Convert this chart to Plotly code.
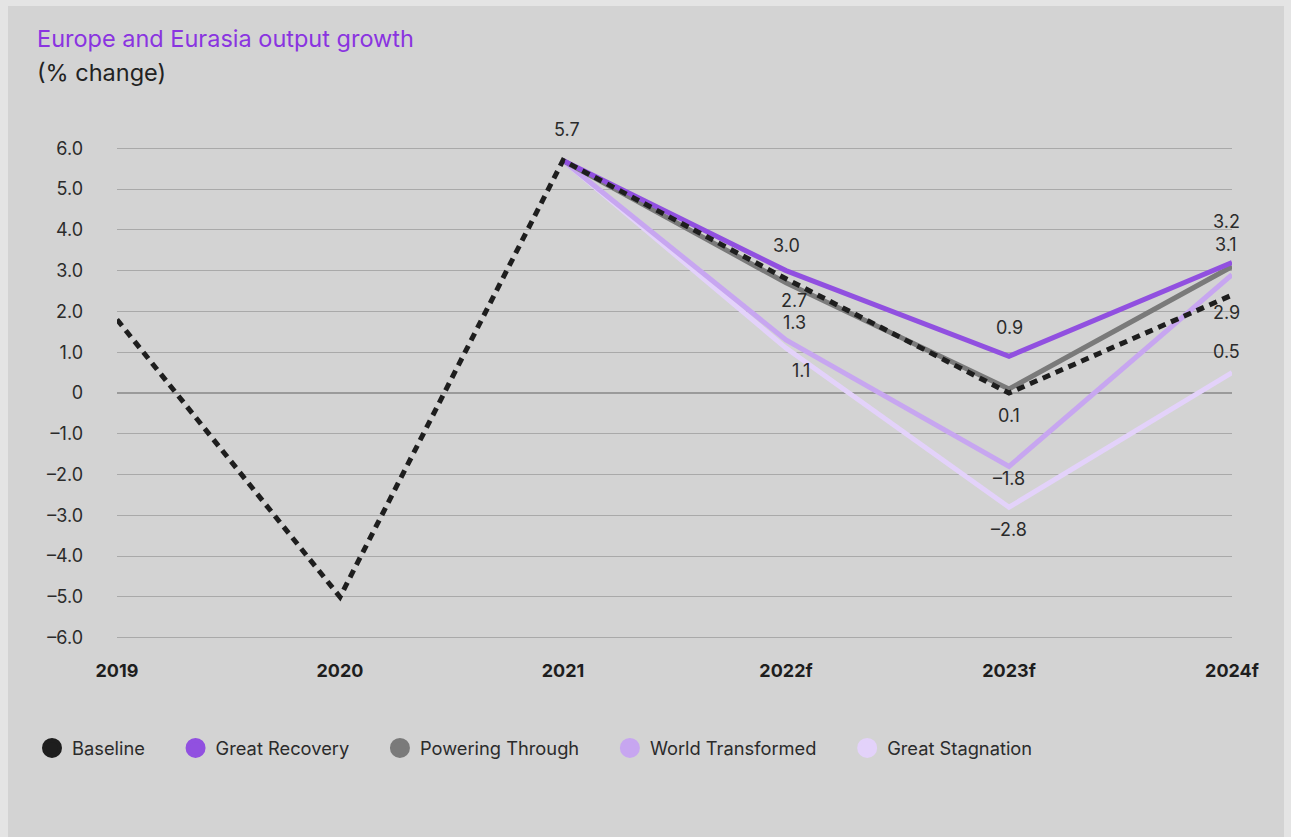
import plotly.graph_objects as go

years = ["2019", "2020", "2021", "2022f", "2023f", "2024f"]
baseline = [1.8, -5.0, 5.7, 2.8, 0.0, 2.4]
great_recovery = [None, None, 5.7, 3.0, 0.9, 3.2]
powering_through = [None, None, 5.7, 2.7, 0.1, 3.1]
world_transformed = [None, None, 5.7, 1.3, -1.8, 2.9]
great_stagnation = [None, None, 5.7, 1.1, -2.8, 0.5]

y_tickvals = [6, 5, 4, 3, 2, 1, 0, -1, -2, -3, -4, -5, -6]
y_ticktext = ["6.0", "5.0", "4.0", "3.0", "2.0", "1.0", "0",
              "\u20131.0", "\u20132.0", "\u20133.0", "\u20134.0", "\u20135.0", "\u20136.0"]

# data labels: (category, value, text)
label_x = ["2021", "2022f", "2022f", "2022f", "2022f", "2023f", "2023f", "2023f", "2023f",
           "2024f", "2024f", "2024f", "2024f"]
label_y = [5.7, 3.0, 2.7, 1.3, 1.1, 0.9, 0.1, -1.8, -2.8, 3.2, 3.1, 2.9, 0.5]
label_text = ["5.7", "3.0", "2.7", "1.3", "1.1", "0.9", "0.1", "\u20131.8", "\u20132.8",
              "3.2", "3.1", "2.9", "0.5"]
label_dy = [31, 25, -18, 17, -22, 29, -27, -12, -22, 41, 22, -38, 21]
label_dx = [4, 0, 8, 8, 15, 0, 0, 0, 0, -6, -6, -6, -6]

BLACK = "#1e1e1e"
PURPLE = "#9150e0"
GRAY = "#7a7a7a"
LAV = "#c7a6f0"
LAV_LIGHT = "#e3d2fa"

series = [
    ("Great Stagnation", great_stagnation, LAV_LIGHT),
    ("World Transformed", world_transformed, LAV),
    ("Powering Through", powering_through, GRAY),
    ("Great Recovery", great_recovery, PURPLE),
]

L, R, T, B = 117, 59, 147, 198
PW = 1291 - L - R
PH = 837 - T - B


def px_x(p):
    return (p - L) / PW


def px_y(p):
    return (837 - B - p) / PH


fig = go.Figure()
for name, vals, col in series:
    fig.add_trace(go.Scatter(x=years, y=vals, mode="lines", name=name,
                             line=dict(color=col, width=5), showlegend=False))
fig.add_trace(go.Scatter(x=years, y=baseline, mode="lines", name="Baseline",
                         line=dict(color=BLACK, width=5, dash="8px,6px"), showlegend=False))

# legend entries (circle markers)
legend_items = [("Baseline", BLACK), ("Great Recovery", PURPLE), ("Powering Through", GRAY),
                ("World Transformed", LAV), ("Great Stagnation", LAV_LIGHT)]
for name, col in legend_items:
    fig.add_trace(go.Scatter(x=[None], y=[None], mode="markers", name=name + "\u00a0" * 5,
                             marker=dict(color=col, size=16, symbol="circle",
                                         line=dict(color=col, width=4)),
                             showlegend=True))

annotations = []
for xv, yv, t, dy, dx in zip(label_x, label_y, label_text, label_dy, label_dx):
    # category index (numeric-like category names would otherwise be read as indices)
    annotations.append(dict(x=years.index(xv), y=yv, text=t, showarrow=True, ax=dx, ay=-dy,
                            axref="pixel", ayref="pixel",
                            arrowcolor="rgba(0,0,0,0)", arrowwidth=0.1, standoff=0,
                            font=dict(size=18, color="#2b2b2b", family="Inter")))

annotations.append(dict(xref="paper", yref="paper", x=px_x(35), y=px_y(38),
                        xanchor="left", yanchor="middle", showarrow=False,
                        text="Europe and Eurasia output growth",
                        font=dict(size=23.5, color="#8a34e0", family="Inter")))
annotations.append(dict(xref="paper", yref="paper", x=px_x(35), y=px_y(72),
                        xanchor="left", yanchor="middle", showarrow=False,
                        text="(% change)",
                        font=dict(size=23.5, color="#222222", family="Inter")))

fig.update_layout(
    width=1291, height=837,
    margin=dict(l=L, r=R, t=T, b=B),
    paper_bgcolor="#e4e4e4",
    plot_bgcolor="rgba(0,0,0,0)",
    font=dict(family="Inter", color="#2b2b2b"),
    showlegend=True,
    legend=dict(orientation="h", x=px_x(32), xanchor="left",
                y=px_y(748), yanchor="middle",
                font=dict(size=18.3, color="#2b2b2b", family="Inter"),
                bgcolor="rgba(0,0,0,0)", itemsizing="trace", traceorder="normal"),
    annotations=annotations,
    shapes=[dict(type="rect", xref="paper", yref="paper",
                 x0=px_x(8), x1=px_x(1284),
                 y0=px_y(850), y1=px_y(6),
                 fillcolor="#d3d3d3", line=dict(width=0), layer="below")],
)

fig.update_xaxes(type="category", range=[0, 5], showgrid=False, zeroline=False,
                 showline=False, ticks="", ticklabelstandoff=19,
                 tickfont=dict(size=18, color="#1e1e1e", family="Inter", weight="bold"))
fig.update_yaxes(range=[-6.03, 6.03], tickvals=y_tickvals, ticktext=y_ticktext,
                 showgrid=True, gridcolor="#a9a9a9", gridwidth=1,
                 zeroline=True, zerolinecolor="#9a9a9a", zerolinewidth=2,
                 showline=False, ticks="", ticklabelstandoff=33,
                 tickfont=dict(size=18, color="#2b2b2b", family="Inter"))

fig.write_html("out.html",
               config={"displayModeBar": False},
               post_script="document.body.style.margin='0';"
                           "document.body.style.background='#e4e4e4';")
